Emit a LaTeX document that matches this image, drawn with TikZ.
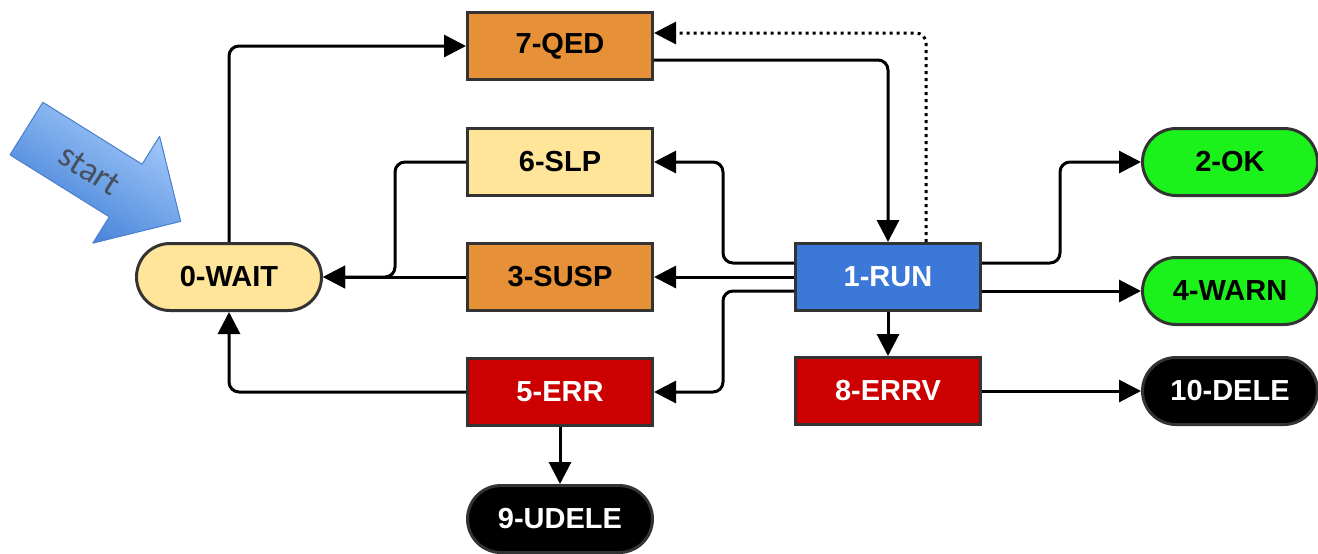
\documentclass[tikz,border=0pt]{standalone}
\usepackage{fontspec}
\setmainfont{Liberation Sans}
\newfontfamily\startfont{Carlito}
\usetikzlibrary{arrows.meta,calc}
\definecolor{cOrange}{HTML}{E69138}
\definecolor{cYellow}{HTML}{FFE599}
\definecolor{cBlue}{HTML}{3C78D8}
\definecolor{cRed}{HTML}{CC0000}
\definecolor{cGreen}{HTML}{1BF21B}
\definecolor{cBorder}{HTML}{333333}
\definecolor{cArrowLight}{HTML}{A3CAF9}
\definecolor{cArrowDark}{HTML}{4682D9}
\definecolor{cArrowEdge}{HTML}{4A7FD0}
\definecolor{cStartText}{HTML}{46505E}
\begin{document}
\begin{tikzpicture}[x=0.5pt,y=-0.5pt,
  state/.style={draw=cBorder, line width=1.5pt, minimum width=92.5pt, minimum height=33.5pt,
    inner sep=0pt, font=\fontsize{14.5}{16}\selectfont\bfseries},
  rectstate/.style={state},
  pill/.style={state, rounded corners=16.75pt},
  conn/.style={line width=1.5pt, rounded corners=5pt, -{Triangle[length=11pt,width=11pt]}},
  ]
\useasboundingbox (0,0) rectangle (1318,553);

% start arrow (block arrow, shaded across its width: light on top, dark below)
\begin{scope}[shift={(96,172)}, rotate=-32]
  \begin{scope}
    \clip (-41pt,15.5pt) -- (17.5pt,15.5pt) -- (17.5pt,32pt) -- (49pt,1.5pt)
      -- (17.5pt,-31pt) -- (17.5pt,-15.5pt) -- (-41pt,-15.5pt) -- cycle;
    \foreach \i in {0,...,31}{
      \pgfmathsetmacro\p{100*\i/31}
      \fill[cArrowLight!\p!cArrowDark] (-42pt,{-33pt+\i*2.1pt}) rectangle (50pt,{-33pt+(\i+1)*2.1pt+0.3pt});
    }
  \end{scope}
  \draw[cArrowEdge, line width=0.5pt, line join=round]
    (-41pt,15.5pt) -- (17.5pt,15.5pt) -- (17.5pt,32pt) -- (49pt,1.5pt)
    -- (17.5pt,-31pt) -- (17.5pt,-15.5pt) -- (-41pt,-15.5pt) -- cycle;
\end{scope}
\node[rotate=-32, font=\startfont\fontsize{17.5}{20}\selectfont, text=cStartText] (starttext) at (90,170) {start};

% nodes
\node[rectstate, fill=cOrange] (qed) at (560,46) {7-QED};
\node[rectstate, fill=cYellow] (slp) at (560,162) {6-SLP};
\node[rectstate, fill=cOrange] (susp) at (560,277) {3-SUSP};
\node[pill, fill=cYellow] (wait) at (229,277) {0-WAIT};
\node[rectstate, fill=cBlue, text=white] (run) at (888,277) {1-RUN};
\node[rectstate, fill=cRed, text=white] (err) at (560,392) {5-ERR};
\node[rectstate, fill=cRed, text=white] (errv) at (888,391) {8-ERRV};
\node[pill, fill=black, text=white] (udele) at (560,519) {9-UDELE};
\node[pill, fill=cGreen, minimum width=87.5pt] (ok) at (1230,162) {2-OK};
\node[pill, fill=cGreen, minimum width=87.5pt] (warn) at (1230,291) {4-WARN};
\node[pill, fill=black, text=white, minimum width=87.5pt] (dele) at (1230,391) {10-DELE};

% helper coordinates
\coordinate (jL) at (723,0);
\coordinate (jR) at (1060,0);
\coordinate (jW) at (395,0);

% connectors
\draw[conn] (wait.north) |- (qed.west);
\draw[conn] ([yshift=-7pt]qed.east) -| (run.north);
\draw[conn, dotted] ([xshift=19pt]run.north) |- ([yshift=6.5pt]qed.east);
\draw[conn] ([yshift=7pt]run.west) -| (jL |- slp.east) -- (slp.east);
\draw[conn] (run.west) -- (susp.east);
\draw[conn] ([yshift=-7pt]run.west) -| (jL |- err.east) -- (err.east);
\draw[conn] (run.south) -- (errv.north);
\draw[conn] ([yshift=7pt]run.east) -| (jR |- ok.west) -- (ok.west);
\draw[conn] ([yshift=-7pt]run.east) -- ([yshift=-7pt]run.east -| warn.west);
\draw[conn] (errv.east) -- (dele.west);
\draw[conn] (slp.west) -| (jW |- wait.east) -- (wait.east);
\draw[conn] (susp.west) -- (wait.east);
\draw[conn] (err.west) -| (wait.south);
\draw[conn] (err.south) -- (udele.north);
\end{tikzpicture}
\end{document}
